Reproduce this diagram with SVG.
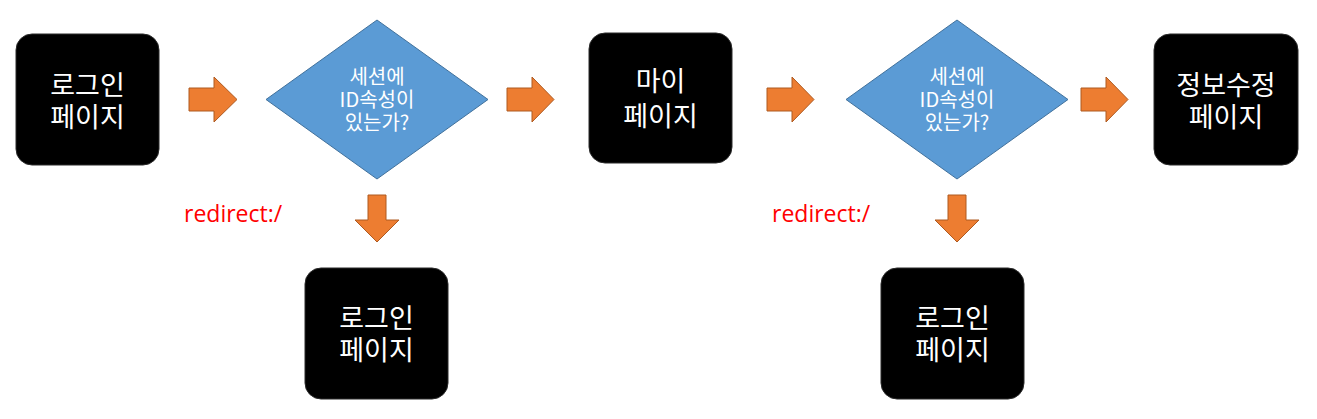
<svg xmlns="http://www.w3.org/2000/svg" width="1317" height="419" viewBox="0 0 1317 419">
<style>
.box{fill:#000;stroke:#2b2b2b;stroke-width:1}
.dia{fill:#5B9BD5;stroke:#41719C;stroke-width:1}
.arr{fill:#ED7D31;stroke:#AE5A21;stroke-width:1}
.bt{font-family:"Noto Sans CJK KR","Noto Sans",sans-serif;font-size:27px;fill:#fff;text-anchor:middle}
.dt{font-family:"Noto Sans CJK KR","Noto Sans",sans-serif;font-size:20px;fill:#fff;text-anchor:middle}
.rt{font-family:"Open Sans","Noto Sans CJK KR",sans-serif;font-size:23px;fill:#FF0000}
</style>
<rect width="1317" height="419" fill="#fff"/>
<g id="connectors">
<path class="arr" d="M189,88 H214 V77 L237,99.5 L214,122 V111 H189 Z"/>
<path class="arr" d="M507,88 H532 V77 L554,99.5 L532,122 V111 H507 Z"/>
<path class="arr" d="M767,88 H792 V77 L814,99.5 L792,122 V111 H767 Z"/>
<path class="arr" d="M1081,88 H1106 V77 L1128,99.5 L1106,122 V111 H1081 Z"/>
<path class="arr" d="M368,195 V220 H355 L377,242 L399,220 H386 V195 Z"/>
<path class="arr" d="M948,195 V220 H935 L957,242 L979,220 H966 V195 Z"/>
<text class="rt" x="184" y="222">redirect:/</text>
<text class="rt" x="772" y="222">redirect:/</text>
</g>
<g id="login1">
<rect class="box" x="16" y="34" width="143" height="131" rx="16"/>
<text class="bt" x="87.5" y="95">로그인</text>
<text class="bt" x="87.5" y="127">페이지</text>
</g>
<g id="decision1">
<polygon class="dia" points="377,20 488,99.5 377,179 266,99.5"/>
<text class="dt" x="377" y="84">세션에</text>
<text class="dt" x="377" y="107">ID속성이</text>
<text class="dt" x="377" y="130">있는가?</text>
</g>
<g id="login2">
<rect class="box" x="305" y="268" width="143" height="131" rx="16"/>
<text class="bt" x="376.5" y="328">로그인</text>
<text class="bt" x="376.5" y="360">페이지</text>
</g>
<g id="mypage">
<rect class="box" x="589" y="33" width="143" height="130" rx="16"/>
<text class="bt" x="660.5" y="91">마이</text>
<text class="bt" x="660.5" y="126">페이지</text>
</g>
<g id="decision2">
<polygon class="dia" points="957,20 1068,99.5 957,179 846,99.5"/>
<text class="dt" x="957" y="84">세션에</text>
<text class="dt" x="957" y="107">ID속성이</text>
<text class="dt" x="957" y="130">있는가?</text>
</g>
<g id="editpage">
<rect class="box" x="1154" y="34" width="144" height="131" rx="16"/>
<text class="bt" x="1226" y="95">정보수정</text>
<text class="bt" x="1226" y="127">페이지</text>
</g>
<g id="login3">
<rect class="box" x="881" y="268" width="143" height="131" rx="16"/>
<text class="bt" x="952.5" y="328">로그인</text>
<text class="bt" x="952.5" y="360">페이지</text>
</g>
</svg>
